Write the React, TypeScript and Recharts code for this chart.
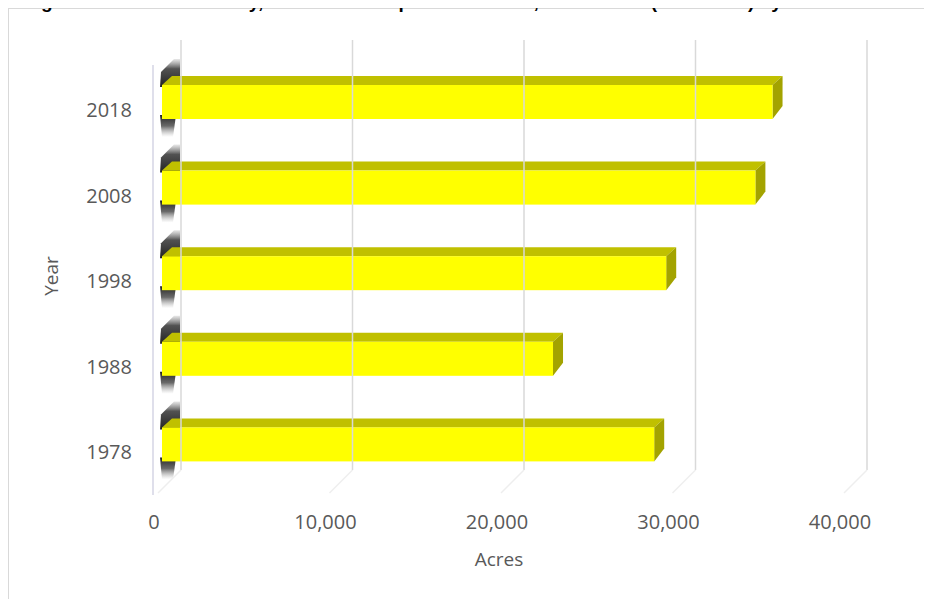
import React from "react";
import { BarChart, Bar, XAxis, YAxis, ReferenceLine } from "recharts";

// values (acres), bottom to top
const YEARS = ["1978", "1988", "1998", "2008", "2018"];
const ACRES = [28700, 22800, 29400, 34600, 35600];
const X_TICKS = [0, 10000, 20000, 30000, 40000];

const data = YEARS.map((year, i) => ({ year, acres: ACRES[i] }));

const FONT = "'Open Sans', 'DejaVu Sans', sans-serif";
const TEXT = "#595959";
const DEPTH = 10; // 3d depth of the bars
const TOP = 9;

function Bar3D(props: any) {
  const { x, y, width, height, index } = props;
  if (width <= 0) return null;
  const fy = y + TOP;
  const fh = height - TOP;
  const up = `wallUp${index}`;
  const dn = `wallDn${index}`;
  return (
    <g>
      <defs>
        <linearGradient id={up} x1="0" y1="0" x2="0" y2="1">
          <stop offset="0%" stopColor="#666" stopOpacity={0.15} />
          <stop offset="35%" stopColor="#333" stopOpacity={0.85} />
          <stop offset="100%" stopColor="#222" stopOpacity={1} />
        </linearGradient>
        <linearGradient id={dn} x1="0" y1="0" x2="0" y2="1">
          <stop offset="0%" stopColor="#222" stopOpacity={1} />
          <stop offset="50%" stopColor="#444" stopOpacity={0.8} />
          <stop offset="100%" stopColor="#999" stopOpacity={0} />
        </linearGradient>
      </defs>
      {/* shading on the side wall */}
      <polygon
        points={`${x - 2},${fy + 2} ${x - 1},${y - 4} ${x + 12},${y - 17} ${x + 18},${y - 17} ${x + 18},${fy + 2}`}
        fill={`url(#${up})`}
      />
      <polygon
        points={`${x - 2},${y + height - 4} ${x + 14},${y + height - 4} ${x + 11},${y + height + 18} ${x},${y + height + 18}`}
        fill={`url(#${dn})`}
      />
      {/* top face */}
      <polygon
        points={`${x},${fy} ${x + DEPTH},${y} ${x + width + DEPTH},${y} ${x + width},${fy}`}
        fill="#c0c000"
      />
      {/* side face */}
      <polygon
        points={`${x + width},${fy} ${x + width + DEPTH},${y} ${x + width + DEPTH},${y + fh - 4} ${x + width},${y + height}`}
        fill="#a3a300"
      />
      {/* front face */}
      <rect x={x} y={fy} width={width} height={fh} fill="#ffff00" />
    </g>
  );
}

function GridShape(props: any) {
  const { x1 } = props;
  const top = Math.min(props.y1, props.y2);
  const bottom = Math.max(props.y1, props.y2);
  const back = x1 + 19;
  return (
    <g>
      <line x1={back} y1={top - 15} x2={back} y2={bottom - 13} stroke="#d9d9d9" strokeWidth={1.5} />
      <line x1={back} y1={bottom - 13} x2={x1 - 4} y2={bottom + 10} stroke="#eeeeee" strokeWidth={1.5} />
    </g>
  );
}

function WallEdge(props: any) {
  const { x1 } = props;
  const top = Math.min(props.y1, props.y2);
  const bottom = Math.max(props.y1, props.y2);
  return (
    <line x1={x1 - 9} y1={top + 10} x2={x1 - 9} y2={bottom + 12} stroke="#d4d4e4" strokeWidth={1.5} />
  );
}

export default function App() {
  return (
    <div style={{ position: "relative", fontFamily: FONT }}>
      <div
        style={{
          position: "absolute",
          top: -17,
          left: 16,
          whiteSpace: "nowrap",
          fontFamily: "'Liberation Sans', Arial, sans-serif",
          fontWeight: 700,
          fontSize: 19,
          lineHeight: "22px",
          color: "#000",
        }}
      >
        Figure 3: Faulkner County, Harvested Cropland in Farms, Total Acres (1978-2018) by Census
      </div>
      <div
        style={{
          width: 940,
          height: 610,
          border: "1px solid #d9d9d9",
          boxSizing: "border-box",
          overflow: "hidden",
          background: "#fff",
        }}
      >
        <BarChart
          width={923}
          height={590}
          data={data}
          layout="vertical"
          margin={{ top: 46, right: 84, bottom: 56, left: 13 }}
        >
          <XAxis
            type="number"
            domain={[0, 40000]}
            ticks={X_TICKS}
            tickFormatter={(v: number) => v.toLocaleString("en-US")}
            axisLine={false}
            tickLine={false}
            tickSize={0}
            tickMargin={32}
            height={60}
            tick={{ fill: TEXT, fontSize: 20, fontFamily: FONT, dx: -8 }}
            label={{
              content: () => (
                <text x={490} y={557} textAnchor="middle" fill={TEXT} fontSize={19} fontFamily={FONT}>
                  Acres
                </text>
              ),
            }}
          />
          <YAxis
            type="category"
            dataKey="year"
            reversed
            width={140}
            axisLine={false}
            tickLine={false}
            tickSize={0}
            tickMargin={30}
            tick={{ fill: TEXT, fontSize: 20, fontFamily: FONT, dy: 12 }}
            label={{
              content: () => (
                <text
                  x={49}
                  y={267}
                  transform="rotate(-90 49 267)"
                  textAnchor="middle"
                  fill={TEXT}
                  fontSize={19}
                  fontFamily={FONT}
                >
                  Year
                </text>
              ),
            }}
          />
          <ReferenceLine x={0} shape={WallEdge} />
          {X_TICKS.map((t) => (
            <ReferenceLine key={t} x={t} shape={GridShape} />
          ))}
          <Bar dataKey="acres" barSize={43} shape={Bar3D} isAnimationActive={false} />
        </BarChart>
      </div>
    </div>
  );
}
